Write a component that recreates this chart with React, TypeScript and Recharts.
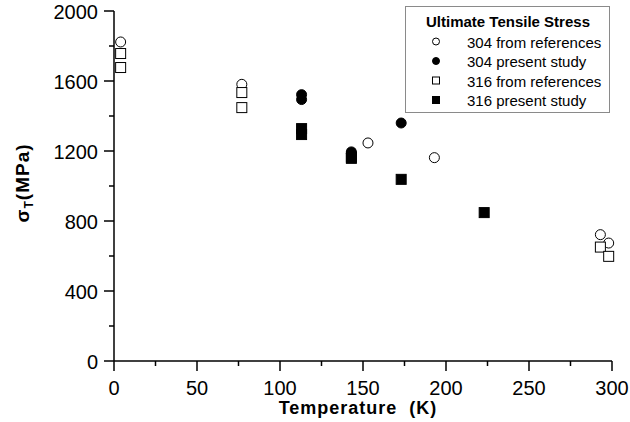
import React from 'react';
import { ScatterChart, Scatter, XAxis, YAxis, Legend } from 'recharts';

const xTicks = [0, 25, 50, 75, 100, 125, 150, 175, 200, 225, 250, 275, 300];
const yTicks = [0, 200, 400, 600, 800, 1000, 1200, 1400, 1600, 1800, 2000];

const ref304T = [4, 77, 153, 193, 293, 298];
const ref304S = [1823, 1581, 1246, 1162, 722, 674];
const pres304T = [113, 113, 143, 143, 173];
const pres304S = [1522, 1494, 1195, 1185, 1360];
const ref316T = [4, 4, 77, 77, 293, 298];
const ref316S = [1757, 1677, 1534, 1448, 651, 598];
const pres316T = [113, 113, 143, 143, 173, 223];
const pres316S = [1328, 1294, 1165, 1158, 1038, 848];

const legendTitle = 'Ultimate Tensile Stress';
const seriesNames = ['304 from references', '304 present study', '316 from references', '316 present study'];
const xLabel = 'Temperature  (K)';

const FONT = '"Liberation Sans", Arial, sans-serif';

const toPts = (t: number[], s: number[]) => t.map((x, i) => ({ x, y: s[i] }));

type Kind = 'openCircle' | 'filledCircle' | 'openSquare' | 'filledSquare';
const kinds: Kind[] = ['openCircle', 'filledCircle', 'openSquare', 'filledSquare'];
const seriesData = [toPts(ref304T, ref304S), toPts(pres304T, pres304S), toPts(ref316T, ref316S), toPts(pres316T, pres316S)];

const Marker = ({ kind, cx, cy, size }: { kind: Kind; cx: number; cy: number; size: number }) => {
  const h = size / 2;
  if (kind === 'openCircle') return <circle cx={cx} cy={cy} r={h} fill="#fff" stroke="#000" strokeWidth={1} />;
  if (kind === 'filledCircle') return <circle cx={cx} cy={cy} r={h} fill="#000" stroke="#000" strokeWidth={1} />;
  if (kind === 'openSquare') return <rect x={cx - h} y={cy - h} width={size} height={size} fill="#fff" stroke="#000" strokeWidth={1} />;
  return <rect x={cx - h} y={cy - h} width={size} height={size} fill="#000" stroke="#000" strokeWidth={1} />;
};

const makeShape = (kind: Kind) => (props: any) => <Marker kind={kind} cx={props.cx} cy={props.cy} size={10} />;

const XTick = (props: any) => {
  const { x, y, payload } = props;
  const major = payload.value % 50 === 0;
  return (
    <g>
      <line x1={x} x2={x} y1={y} y2={y + (major ? 10 : 5)} stroke="#000" strokeWidth={1.5} />
      {major && (
        <text x={x} y={y + 34} textAnchor="middle" fontSize={20} fontFamily={FONT} fill="#000">
          {payload.value}
        </text>
      )}
    </g>
  );
};

const YTick = (props: any) => {
  const { x, y, payload } = props;
  const major = payload.value % 400 === 0;
  return (
    <g>
      <line x1={x} x2={x - (major ? 10 : 5)} y1={y} y2={y} stroke="#000" strokeWidth={1.5} />
      {major && (
        <text x={x - 16} y={y + 7.5} textAnchor="end" fontSize={20} fontFamily={FONT} fill="#000">
          {payload.value}
        </text>
      )}
    </g>
  );
};

const XLabel = (props: any) => {
  const vb = props.viewBox || { x: 114, y: 361, width: 498, height: 61 };
  return (
    <text
      x={vb.x + vb.width / 2 - 5}
      y={vb.y + 53}
      textAnchor="middle"
      fontSize={18}
      fontWeight="bold"
      letterSpacing={1}
      fontFamily={FONT}
      fill="#000"
      style={{ whiteSpace: 'pre' }}
    >
      {xLabel}
    </text>
  );
};

const YLabel = (props: any) => {
  const cx = 29;
  const cy = 183;
  return (
    <text
      transform={`translate(${cx},${cy}) rotate(-90)`}
      x={0}
      y={0}
      textAnchor="middle"
      fontSize={19}
      fontWeight="bold"
      fontFamily={FONT}
      fill="#000"
      letterSpacing={1}
    >
      <tspan>σ</tspan>
      <tspan fontSize={12} dy={4}>T</tspan>
      <tspan dy={-4}>(MPa)</tspan>
    </text>
  );
};

const LegendBox = () => {
  const rows = [41.5, 61, 80.5, 100];
  return (
    <svg width={206} height={108} style={{ display: 'block' }}>
      <rect x={0.5} y={0.5} width={204} height={106} fill="#fff" stroke="#8a8a8a" strokeWidth={1} />
      <text x={103} y={21} textAnchor="middle" fontSize={15} fontWeight="bold" fontFamily={FONT} fill="#000">
        {legendTitle}
      </text>
      {seriesNames.map((name, i) => (
        <g key={name}>
          <Marker kind={kinds[i]} cx={31} cy={rows[i] - 6} size={7} />
          <text x={62} y={rows[i]} fontSize={15} fontFamily={FONT} fill="#000">
            {name}
          </text>
        </g>
      ))}
    </svg>
  );
};

export default function App() {
  return (
    <div style={{ position: 'absolute', left: 0, top: 0, background: '#fff' }}>
      <ScatterChart width={630} height={422} margin={{ top: 11, right: 18, bottom: 0, left: 0 }}>
        <XAxis
          type="number"
          dataKey="x"
          domain={[0, 300]}
          ticks={xTicks}
          interval={0}
          height={61}
          tickLine={false}
          tickSize={0}
          tickMargin={0}
          tick={<XTick />}
          axisLine={{ stroke: '#000', strokeWidth: 1.5 }}
          label={<XLabel />}
        />
        <YAxis
          type="number"
          dataKey="y"
          domain={[0, 2000]}
          ticks={yTicks}
          interval={0}
          width={114}
          tickLine={false}
          tickSize={0}
          tickMargin={0}
          tick={<YTick />}
          axisLine={{ stroke: '#000', strokeWidth: 1.5 }}
          label={<YLabel />}
        />
        <Legend
          layout="vertical"
          align="center"
          verticalAlign="middle"
          content={() => <LegendBox />}
          wrapperStyle={{ position: 'absolute', left: 405, top: 6, width: 206, height: 108 }}
        />
        {seriesData.map((d, i) => (
          <Scatter
            key={seriesNames[i]}
            name={seriesNames[i]}
            data={d}
            shape={makeShape(kinds[i])}
            isAnimationActive={false}
          />
        ))}
      </ScatterChart>
    </div>
  );
}
